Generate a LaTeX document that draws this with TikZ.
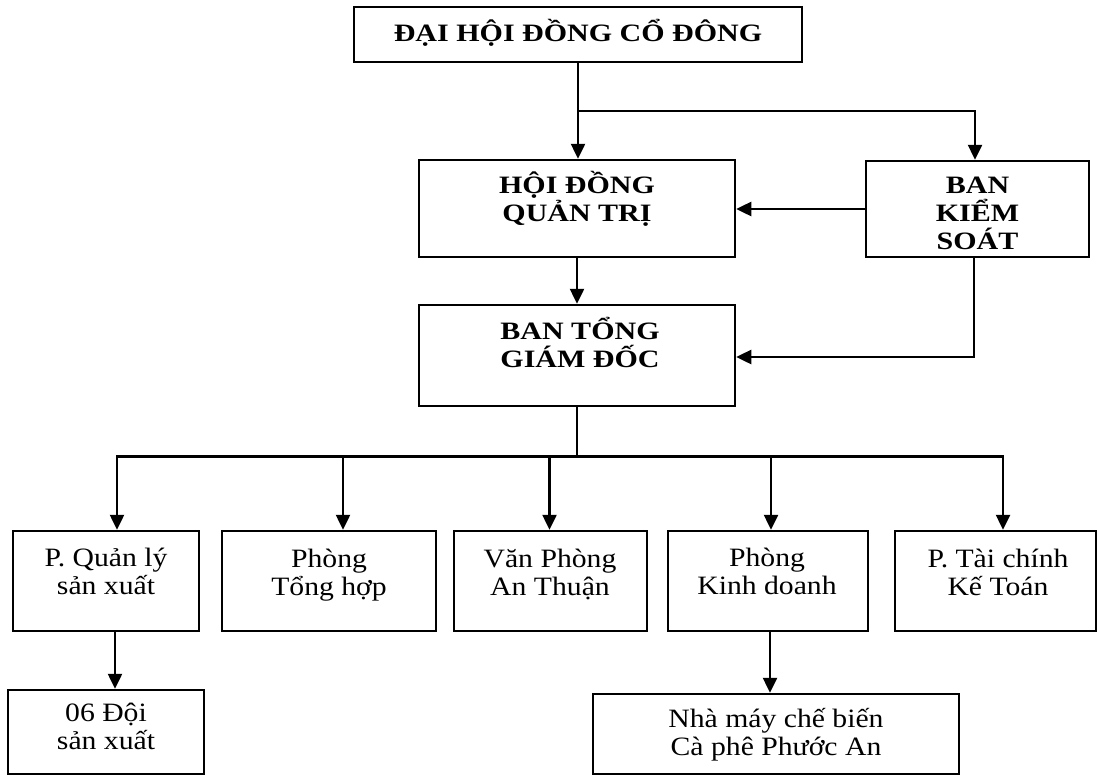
\documentclass[tikz,border=0pt]{standalone}
\usepackage{fontspec}
\setmainfont{Liberation Serif}
\newfontfamily\hdfont[FakeStretch=1.2]{Liberation Serif}
\newfontfamily\rgfont[FakeStretch=1.12]{Liberation Serif}
\usetikzlibrary{arrows.meta,calc}
\begin{document}
\begin{tikzpicture}[x=1pt,y=-1pt,
  box/.style={draw=black,line width=2.5pt,inner sep=0pt},
  hdtxt/.style={font=\hdfont\bfseries\fontsize{25}{28}\selectfont,align=center,anchor=base,inner sep=0pt},
  txt/.style={font=\rgfont\fontsize{26.5}{28}\selectfont,align=center,anchor=base,inner sep=0pt},
  arr/.style={line width=2.5pt,-{Triangle[width=14pt,length=15pt]}},
  ln/.style={line width=2.5pt}]
\fill[white] (0,0) rectangle (1097,776);
\useasboundingbox (0,0) rectangle (1097,776);
% boxes
\node[box,minimum width=448pt,minimum height=55pt] (dh) at (578,34.5) {};
\node[box,minimum width=316pt,minimum height=97pt] (hd) at (577,208.5) {};
\node[box,minimum width=223pt,minimum height=96pt] (bks) at (977.5,209) {};
\node[box,minimum width=316pt,minimum height=101pt] (bt) at (577,355.5) {};
\node[box,minimum width=186pt,minimum height=100pt] (b1) at (106,581) {};
\node[box,minimum width=214pt,minimum height=100pt] (b2) at (329,581) {};
\node[box,minimum width=193pt,minimum height=100pt] (b3) at (550.5,581) {};
\node[box,minimum width=200pt,minimum height=100pt] (b4) at (768,581) {};
\node[box,minimum width=201pt,minimum height=100pt] (b5) at (995.5,581) {};
\node[box,minimum width=196pt,minimum height=84pt] (d06) at (106,732) {};
\node[box,minimum width=366pt,minimum height=80pt] (nm) at (776,734) {};
% texts (anchor = baseline of last line)
\node[hdtxt] (tdh) at (578,42) {ĐẠI HỘI ĐỒNG CỔ ĐÔNG};
\node[hdtxt] (thd) at (577,221) {HỘI ĐỒNG\\QUẢN TRỊ};
\node[hdtxt] (tbks) at (977.5,249) {BAN\\KIỂM\\SOÁT};
\node[hdtxt] (tbt) at (580,367) {BAN TỔNG\\GIÁM ĐỐC};
\node[txt] (tb1) at (106,594) {P. Quản lý\\sản xuất};
\node[txt] (tb2) at (329,595) {Phòng\\Tổng hợp};
\node[txt] (tb3) at (550,595) {Văn Phòng\\An Thuận};
\node[txt] (tb4) at (767,594) {Phòng\\Kinh doanh};
\node[txt] (tb5) at (998,595) {P. Tài chính\\Kế Toán};
\node[txt] (td06) at (106,749) {06 Đội\\sản xuất};
\node[txt] (tnm) at (776,755) {Nhà máy chế biến\\Cà phê Phước An};
% connectors
\coordinate (j1) at ($(dh.south)!0.5!(dh.south |- hd.north)$);
\draw[arr] (dh.south) -- (dh.south |- hd.north);
\draw[arr] (j1) -| ([xshift=-2.5pt]bks.north);
\draw[arr] (bks.west) -- (bks.west -| hd.east);
\draw[arr] (hd.south) -- (bt.north);
\draw[arr] ([xshift=-3.5pt]bks.south) |- ([yshift=-1.5pt]bt.east);
\coordinate (bus) at ($(bt.south)+(0,49)$);
\draw[ln] (bt.south) -- (bus);
\draw[arr] (bus) -| ([xshift=11pt]b1.north);
\draw[arr] (bus) -| ([xshift=14pt]b2.north);
\draw[arr] (bus) -| ([xshift=-1pt]b3.north);
\draw[arr] (bus) -| ([xshift=3pt]b4.north);
\draw[arr] (bus) -| ([xshift=7.5pt]b5.north);
\draw[arr] ([xshift=9pt]b1.south) -- ([xshift=9pt]d06.north);
\draw[arr] ([xshift=2pt]b4.south) -- ([xshift=-6pt]nm.north);
\end{tikzpicture}
\end{document}
